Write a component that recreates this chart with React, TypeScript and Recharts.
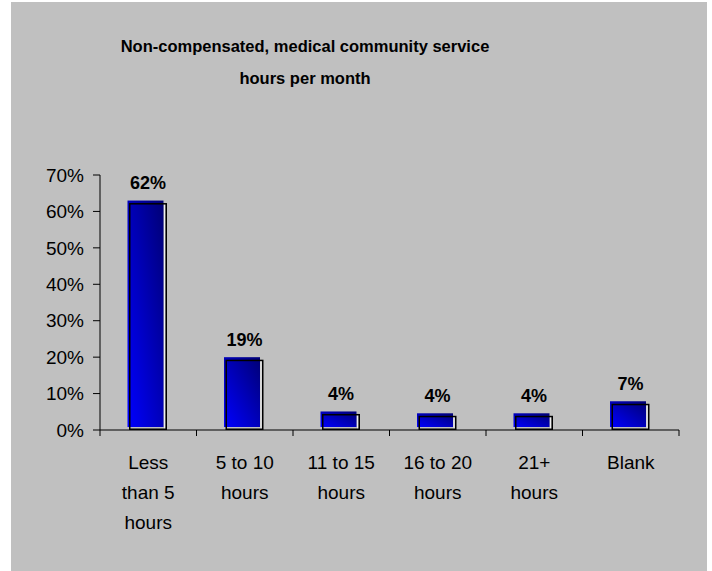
import { BarChart, Bar, XAxis, YAxis, LabelList } from 'recharts'

const categories = ['Less than 5 hours', '5 to 10 hours', '11 to 15 hours', '16 to 20 hours', '21+ hours', 'Blank']
const tickLines = [
  ['Less', 'than 5', 'hours'],
  ['5 to 10', 'hours'],
  ['11 to 15', 'hours'],
  ['16 to 20', 'hours'],
  ['21+', 'hours'],
  ['Blank'],
]
const shares = [62.3, 19.3, 4.4, 3.9, 3.9, 7.2]
const yTicks = [0, 10, 20, 30, 40, 50, 60, 70]

const W = 712
const H = 571
const MARGIN = { top: 175, right: 33, bottom: 41, left: 40 }
const YAXIS_W = 60
const XAXIS_H = 100
const BAND = (W - MARGIN.left - YAXIS_W - MARGIN.right) / categories.length
const FONT = '"Liberation Sans", Arial, sans-serif'

const data = categories.map((c, i) => ({ name: c, value: shares[i] }))

// eslint-disable-next-line @typescript-eslint/no-explicit-any
function ShadowBar(props: any) {
  const { x, y, width, height, index } = props
  if (height <= 0) return null
  const id = `barGrad${index}`
  return (
    <g>
      <defs>
        <linearGradient id={id} x1="0" y1="1" x2="1" y2="0">
          <stop offset="0%" stopColor="#0000FF" />
          <stop offset="100%" stopColor="#000075" />
        </linearGradient>
      </defs>
      <rect x={x - 1.5} y={y - 2.5} width={width - 2} height={height - 0.5} fill={`url(#${id})`} />
      <line x1={x + width - 2.5} y1={y + 1} x2={x + width - 2.5} y2={y + height - 1} stroke="#f0f0f0" strokeWidth={1} />
      <rect x={x + 0.75} y={y + 0.75} width={width - 1.5} height={height - 1.5} fill="none" stroke="#000" strokeWidth={1.5} />
    </g>
  )
}

// eslint-disable-next-line @typescript-eslint/no-explicit-any
function CategoryTick(props: any) {
  const { x, y, index } = props
  const lines = tickLines[index] ?? []
  return (
    <g>
      {index === 0 && <line x1={x - BAND / 2} y1={y} x2={x - BAND / 2} y2={y + 6} stroke="#000" />}
      <line x1={x + BAND / 2} y1={y} x2={x + BAND / 2} y2={y + 6} stroke="#000" />
      {lines.map((t, i) => (
        <text key={i} x={x} y={y + 39 + i * 30} textAnchor="middle" fontSize={19} fontFamily={FONT} fill="#000">
          {t}
        </text>
      ))}
    </g>
  )
}

export default function App() {
  return (
    <div style={{ position: 'absolute', left: 0, top: 0, width: W, height: H, background: '#fff' }}>
      <div style={{ position: 'absolute', left: 11, top: 2, width: 696, height: 569, background: '#C0C0C0' }} />
      <div
        style={{
          position: 'absolute',
          left: 105,
          top: 30,
          width: 400,
          textAlign: 'center',
          fontFamily: FONT,
          fontWeight: 'bold',
          fontSize: 16.5,
          lineHeight: '32px',
          color: '#000',
        }}
      >
        Non-compensated, medical community service
        <br />
        hours per month
      </div>
      <div style={{ position: 'absolute', left: 0, top: 0 }}>
        <BarChart width={W} height={H} data={data} margin={MARGIN} barSize={38}>
          <XAxis
            dataKey="name"
            interval={0}
            height={XAXIS_H}
            axisLine={{ stroke: '#000' }}
            tickLine={false}
            tickSize={0}
            tickMargin={0}
            tick={<CategoryTick />}
          />
          <YAxis
            domain={[0, 70]}
            ticks={yTicks}
            width={YAXIS_W}
            interval={0}
            tickFormatter={(v: number) => `${v}%`}
            axisLine={{ stroke: '#000' }}
            tickLine={{ stroke: '#000' }}
            tickSize={7}
            tickMargin={9}
            tick={{ fontSize: 19, fontFamily: FONT, fill: '#000' }}
          />
          <Bar dataKey="value" shape={<ShadowBar />} isAnimationActive={false}>
            <LabelList
              dataKey="value"
              position="top"
              offset={14}
              formatter={(v: number) => `${Math.round(v)}%`}
              style={{ fontSize: 18, fontWeight: 'bold', fontFamily: FONT, fill: '#000' }}
            />
          </Bar>
        </BarChart>
      </div>
    </div>
  )
}
